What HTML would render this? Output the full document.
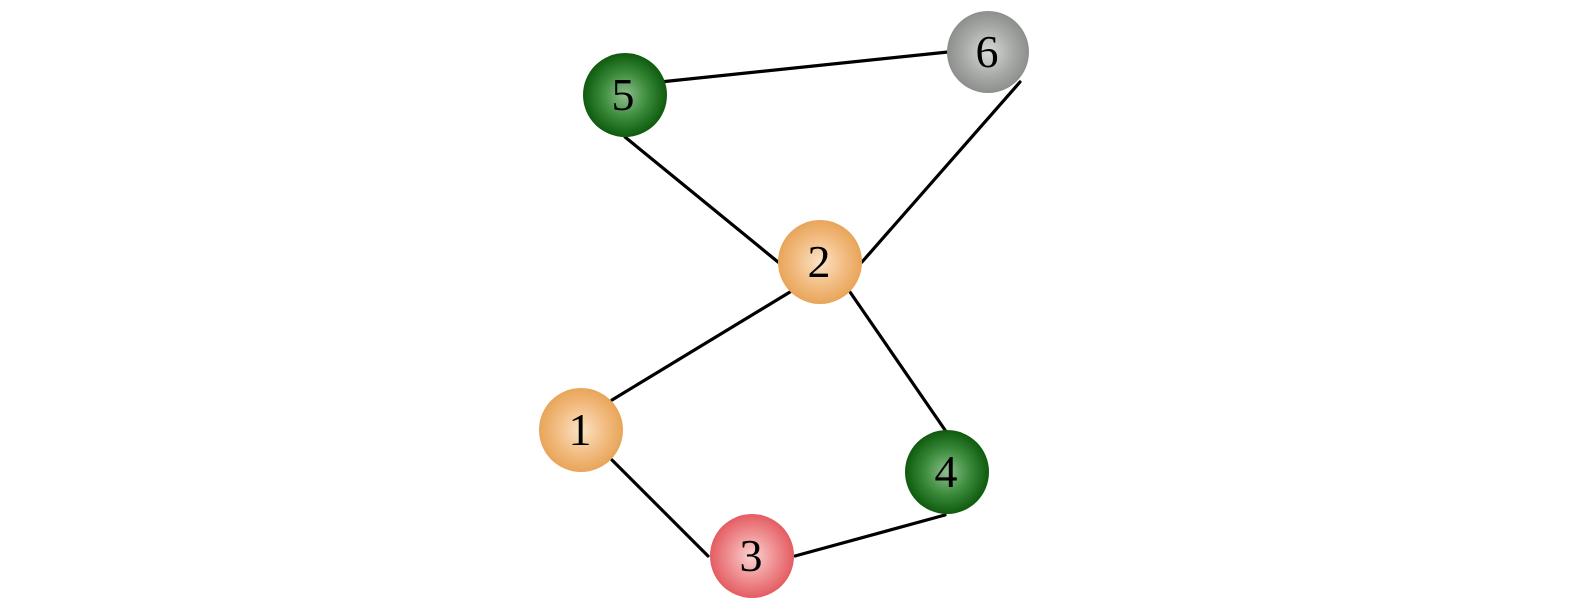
<!DOCTYPE html>
<html><head><style>html,body{margin:0;padding:0;background:#fff;}</style></head>
<body>
<svg width="1575" height="610" viewBox="0 0 1575 610" xmlns="http://www.w3.org/2000/svg">
<defs>
<radialGradient id="g"><stop offset="0" stop-color="#8fbf8f"/><stop offset="0.55" stop-color="#3a8a3a"/><stop offset="1" stop-color="#0e5a0e"/></radialGradient>
<radialGradient id="o"><stop offset="0" stop-color="#fbe3c7"/><stop offset="0.6" stop-color="#f2bb80"/><stop offset="1" stop-color="#e8a559"/></radialGradient>
<radialGradient id="r"><stop offset="0" stop-color="#fbd3d3"/><stop offset="0.6" stop-color="#ee8a8c"/><stop offset="1" stop-color="#e35d62"/></radialGradient>
<radialGradient id="s"><stop offset="0" stop-color="#d8dad8"/><stop offset="0.6" stop-color="#a8aaa8"/><stop offset="1" stop-color="#8c8f8c"/></radialGradient>
</defs>
<g stroke="#000" stroke-width="3.2" stroke-linecap="round">
<line x1="660" y1="82" x2="948" y2="52"/>
<line x1="625" y1="137" x2="778" y2="262"/>
<line x1="1020" y1="82" x2="862" y2="262"/>
<line x1="790" y1="292" x2="612" y2="400"/>
<line x1="850" y1="292" x2="945" y2="430"/>
<line x1="612" y1="460" x2="708" y2="556"/>
<line x1="795" y1="556" x2="945" y2="515"/>
</g>
<g font-family="Liberation Serif, serif" font-size="46" text-anchor="middle" fill="#000">
<circle cx="625" cy="95" r="42" fill="url(#g)"/><text x="623" y="110">5</text>
<circle cx="988" cy="52" r="41" fill="url(#s)"/><text x="987" y="67">6</text>
<circle cx="820" cy="262" r="42" fill="url(#o)"/><text x="819" y="277">2</text>
<circle cx="581" cy="430" r="42" fill="url(#o)"/><text x="580" y="445">1</text>
<circle cx="947" cy="472" r="42" fill="url(#g)"/><text x="946" y="487">4</text>
<circle cx="752" cy="556" r="42" fill="url(#r)"/><text x="751" y="571">3</text>
</g>
</svg>
</body></html>
